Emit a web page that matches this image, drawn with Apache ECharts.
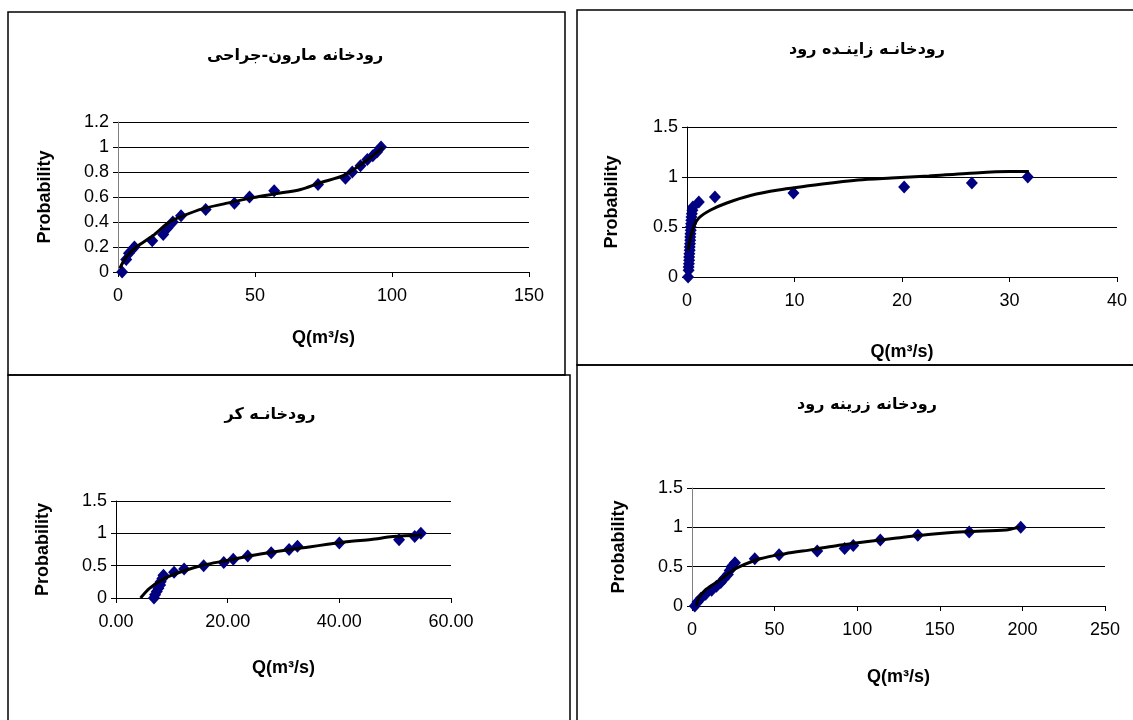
<!DOCTYPE html>
<html>
<head>
<meta charset="utf-8">
<script src="https://cdn.jsdelivr.net/npm/echarts@6/dist/echarts.min.js"></script>
<style>
  html, body { margin: 0; padding: 0; background: #fff; }
  #main { width: 1133px; height: 720px; }
</style>
</head>
<body>
<div id="main"></div>
<script>
// رودخانه مارون-جراحی
var maroonQ = [1.5, 3, 4, 6, 12.5, 16.5, 18, 20, 23, 32, 42.5, 48, 57, 73, 83, 85.5, 88.5, 91, 93, 94.5, 96];
var maroonP = [0, 0.1, 0.15, 0.2, 0.25, 0.3, 0.35, 0.4, 0.45, 0.5, 0.55, 0.6, 0.65, 0.7, 0.75, 0.8, 0.85, 0.9, 0.93, 0.96, 1];
var maroonFitQ = [0.7, 3, 6.7, 12.7, 18.7, 23.3, 30.7, 38.7, 49.3, 57.3, 66.7, 73.3, 82.7, 88, 94.7, 96.7];
var maroonFitP = [0.03, 0.12, 0.2, 0.29, 0.4, 0.445, 0.505, 0.545, 0.595, 0.625, 0.66, 0.71, 0.775, 0.85, 0.96, 1.0];

// رودخانه زاینده رود
var zayQ = [0.1, 0.15, 0.15, 0.18, 0.2, 0.2, 0.22, 0.25, 0.25, 0.28, 0.3, 0.3, 0.32, 0.35, 0.35, 0.38, 0.4, 0.42, 0.45, 0.5, 0.55, 1.1, 2.6, 9.9, 20.2, 26.5, 31.7];
var zayP = [0, 0.067, 0.1, 0.133, 0.167, 0.2, 0.233, 0.267, 0.3, 0.333, 0.367, 0.4, 0.433, 0.467, 0.5, 0.533, 0.567, 0.6, 0.633, 0.667, 0.7, 0.75, 0.8, 0.84, 0.9, 0.94, 1.0];
var zayFitQ = [0.1, 0.3, 0.6, 1.1, 2.2, 3.7, 5.9, 8.5, 12.6, 15.9, 19, 22.5, 26, 30, 31.8];
var zayFitP = [0.27, 0.38, 0.5, 0.59, 0.67, 0.74, 0.815, 0.87, 0.93, 0.97, 0.99, 1.01, 1.035, 1.055, 1.055];

// رودخانه کر
var korQ = [6.8, 7, 7.3, 7.6, 7.9, 8, 8.3, 8.5, 10.4, 12.2, 15.7, 19.3, 21, 23.6, 27.8, 31, 32.5, 40, 50.7, 53.5, 54.6];
var korP = [0, 0.05, 0.1, 0.15, 0.2, 0.25, 0.3, 0.35, 0.4, 0.45, 0.5, 0.55, 0.6, 0.65, 0.7, 0.75, 0.8, 0.85, 0.9, 0.95, 1];
var korFitQ = [4.4, 6, 8.6, 11.8, 15.7, 19.6, 24.9, 30, 34.6, 37.9, 41.8, 45.7, 49.6, 54.8];
var korFitP = [0, 0.15, 0.3, 0.41, 0.51, 0.575, 0.665, 0.735, 0.79, 0.83, 0.875, 0.905, 0.95, 0.975];

// رودخانه زرینه رود
var zarQ = [1.7, 3.3, 5.4, 8.2, 11.9, 14.8, 17.4, 19.5, 21.7, 22.8, 23.9, 26, 38, 52.7, 75.8, 92.4, 97.6, 114, 136.7, 167.8, 199];
var zarP = [0, 0.05, 0.1, 0.15, 0.2, 0.25, 0.3, 0.35, 0.4, 0.45, 0.5, 0.55, 0.6, 0.65, 0.7, 0.73, 0.77, 0.84, 0.9, 0.94, 1];
var zarFitQ = [2.6, 4.3, 8.7, 17.4, 21.7, 28.2, 41.2, 56.4, 73.8, 88.9, 104, 121.5, 143, 165, 190, 195, 198.6];
var zarFitP = [0, 0.107, 0.215, 0.335, 0.41, 0.494, 0.6, 0.665, 0.72, 0.773, 0.815, 0.858, 0.91, 0.944, 0.966, 0.987, 1.0];

var titles = ['رودخانه مارون-جراحی', 'رودخانـه زاینـده رود', 'رودخانـه کر', 'رودخانه زرینه رود'];
var xMax = [150, 40, 60, 250];
var xStep = [50, 10, 20, 50];
var yMax = [1.2, 1.5, 1.5, 1.5];
var yStep = [0.2, 0.5, 0.5, 0.5];

function pairs(xs, ys) {
    return xs.map(function (x, i) { return [x, ys[i]]; });
}

var myChart = echarts.init(document.getElementById('main'));

var fontLatin = '"Liberation Sans", Arial, sans-serif';
var fontFa = '"DejaVu Sans", sans-serif';

// 每个小图的位置
var grids = [
    {left: 118, top: 122, width: 411, height: 150},
    {left: 687, top: 127, width: 430, height: 150},
    {left: 116, top: 501, width: 335, height: 97},
    {left: 692, top: 488, width: 413, height: 118}
];
var titlePos = [[290, 43], [862, 37], [265, 402], [862, 392]];
var xNameGap = [57, 66, 61, 62];
var yNameGap = [64, 66, 64, 64];
var yAxisColor = ['#808080', '#000', '#000', '#808080'];

var xAxes = [], yAxes = [], titleList = [];
for (var i = 0; i < 4; i++) {
    titleList.push({
        text: titles[i],
        left: titlePos[i][0],
        top: titlePos[i][1],
        textAlign: 'center',
        textStyle: {fontFamily: fontFa, fontWeight: 'bold', fontSize: 16, color: '#000'}
    });
    xAxes.push({
        gridIndex: i,
        type: 'value',
        min: 0,
        max: xMax[i],
        interval: xStep[i],
        name: 'Q(m³/s)',
        nameLocation: 'middle',
        nameGap: xNameGap[i],
        nameTextStyle: {fontFamily: fontLatin, fontWeight: 'bold', fontSize: 18, color: '#000'},
        axisLine: {onZero: false, lineStyle: {color: '#000', width: 1}},
        axisTick: {show: true, length: 5, lineStyle: {color: '#000'}},
        axisLabel: {
            fontFamily: fontLatin, fontSize: 18, color: '#000', margin: 15,
            formatter: i === 2 ? function (v) { return v.toFixed(2); } : null
        },
        splitLine: {show: false}
    });
    yAxes.push({
        gridIndex: i,
        type: 'value',
        min: 0,
        max: yMax[i],
        interval: yStep[i],
        name: 'Probability',
        nameLocation: 'middle',
        nameGap: yNameGap[i],
        nameRotate: 90,
        nameTextStyle: {fontFamily: fontLatin, fontWeight: 'bold', fontSize: 18, color: '#000'},
        axisLine: {show: true, lineStyle: {color: yAxisColor[i], width: 1}},
        axisTick: {show: true, length: 5, lineStyle: {color: '#000'}},
        axisLabel: {fontFamily: fontLatin, fontSize: 18, color: '#000', margin: 9},
        splitLine: {show: true, lineStyle: {color: '#000', width: 1}}
    });
}

var pointSets = [[maroonQ, maroonP], [zayQ, zayP], [korQ, korP], [zarQ, zarP]];
var fitSets = [[maroonFitQ, maroonFitP], [zayFitQ, zayFitP], [korFitQ, korFitP], [zarFitQ, zarFitP]];
var series = [];
for (var j = 0; j < 4; j++) {
    series.push({
        type: 'scatter',
        xAxisIndex: j,
        yAxisIndex: j,
        symbol: 'diamond',
        symbolSize: [12, 13],
        itemStyle: {color: '#000080', opacity: 1},
        data: pairs(pointSets[j][0], pointSets[j][1])
    });
    series.push({
        type: 'line',
        xAxisIndex: j,
        yAxisIndex: j,
        showSymbol: false,
        smooth: 0.3,
        lineStyle: {color: '#000', width: 3},
        data: pairs(fitSets[j][0], fitSets[j][1])
    });
}

// 外框
var frame = {type: 'rect', silent: true, style: {fill: 'none', stroke: '#000', lineWidth: 1.5}};
function box(x, y, w, h) {
    return echarts.util.merge({shape: {x: x, y: y, width: w, height: h}}, frame, true);
}

var option = {
    backgroundColor: '#fff',
    animation: false,
    title: titleList,
    grid: grids,
    xAxis: xAxes,
    yAxis: yAxes,
    series: series,
    graphic: [
        box(8, 12, 557, 363),
        box(8, 375, 562, 360),
        box(577, 10, 580, 355),
        box(577, 365, 580, 370)
    ]
};
myChart.setOption(option);
</script>
</body>
</html>
